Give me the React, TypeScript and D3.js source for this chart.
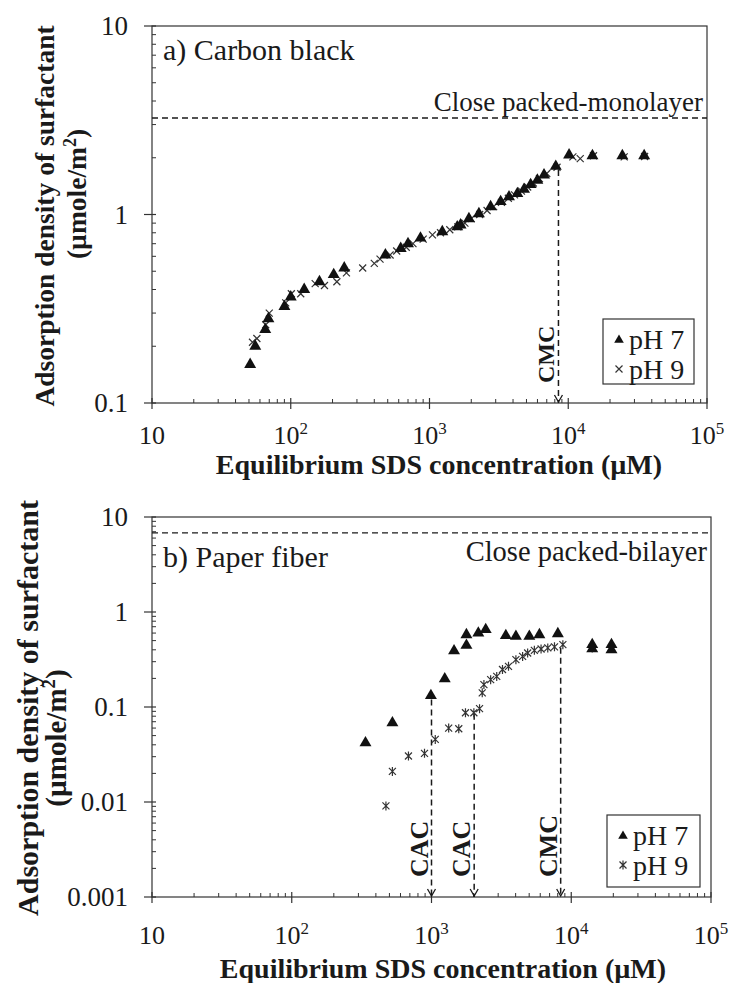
import * as d3 from "d3";

// Panel a) carbon black, [SDS µM, adsorption µmol/m2]
const carbonPh7: [number, number][] = [
  [51, 0.16], [55.5, 0.2], [65.5, 0.245], [69, 0.28], [90, 0.325], [100, 0.365],
  [125, 0.4], [161, 0.44], [204, 0.48], [243, 0.52], [481, 0.61], [620, 0.66],
  [700, 0.7], [861, 0.75], [1236, 0.81], [1585, 0.86], [1675, 0.88], [1924, 0.95],
  [2270, 1.01], [2756, 1.1], [3257, 1.17], [3741, 1.24], [4297, 1.29], [4800, 1.36],
  [5360, 1.44], [5990, 1.52], [6690, 1.62], [8130, 1.8], [10140, 2.07], [14940, 2.05],
  [24550, 2.05], [35240, 2.05],
];
const carbonPh9: [number, number][] = [
  [53, 0.21], [57, 0.22], [66, 0.26], [70, 0.3], [92, 0.34], [101, 0.38], [118, 0.38],
  [150, 0.43], [175, 0.42], [215, 0.44], [252, 0.49], [330, 0.52], [400, 0.55],
  [440, 0.58], [520, 0.61], [580, 0.64], [680, 0.67], [760, 0.7], [900, 0.74],
  [1050, 0.78], [1200, 0.8], [1400, 0.83], [1600, 0.86], [1800, 0.9], [2000, 0.95],
  [2300, 1.0], [2600, 1.05], [2900, 1.1], [3300, 1.16], [3700, 1.22], [4100, 1.27],
  [4600, 1.33], [5100, 1.4], [5600, 1.47], [6200, 1.55], [7000, 1.65], [8300, 1.78],
  [10800, 2.02], [12200, 1.98], [15200, 2.05], [25300, 2.02], [35500, 2.03],
];

// Panel b) paper fiber
const paperPh7: [number, number][] = [
  [337, 0.042], [525, 0.068], [990, 0.132], [1244, 0.198], [1450, 0.39], [1778, 0.446],
  [1778, 0.577], [2163, 0.6], [2443, 0.652], [3404, 0.564], [4018, 0.555], [5012, 0.555],
  [5916, 0.577], [8017, 0.59], [14130, 0.453], [19400, 0.453], [14130, 0.41], [19400, 0.4],
];
const paperPh9: [number, number][] = [
  [472, 0.0091], [525, 0.021], [684, 0.0305], [891, 0.0325], [1064, 0.0456], [1327, 0.06],
  [1567, 0.059], [1750, 0.087], [2010, 0.087], [2207, 0.096], [2307, 0.141], [2372, 0.172],
  [2650, 0.194], [2929, 0.21], [3221, 0.248], [3556, 0.268], [4018, 0.315], [4487, 0.341],
  [4875, 0.37], [5445, 0.395], [6082, 0.408], [6792, 0.419], [7587, 0.43], [8710, 0.453],
  [14130, 0.419], [19400, 0.419],
];

const xTicks = [10, 100, 1000, 10000, 100000];
const topYTicks = [0.1, 1, 10];
const bottomYTicks = [0.001, 0.01, 0.1, 1, 10];
const yTickText: Record<string, string> = {
  "0.001": "0.001", "0.01": "0.01", "0.1": "0.1", "1": "1", "10": "10",
};
const legendLabels = ["pH 7", "pH 9"];

const monolayer = 3.25;
const bilayer = 6.8;
const carbonMarks = [{ label: "CMC", x: 8500, top: 1.72 }];
const paperMarks = [
  { label: "CAC", x: 1000, top: 0.12 },
  { label: "CAC", x: 2020, top: 0.085 },
  { label: "CMC", x: 8400, top: 0.42 },
];

const serif = "'Liberation Serif', 'Times New Roman', serif";
const ink = "#1a1a1a";

function xLabel(v: number, y: number, x: number) {
  const e = Math.round(Math.log10(v));
  return (
    <text key={v} x={x} y={y} textAnchor="middle" fontSize={26}>
      10{e > 1 ? <tspan fontSize={17} dy={-10}>{e}</tspan> : null}
    </text>
  );
}

function minorTicks(lo: number, hi: number) {
  const out: number[] = [];
  for (let d = lo; d < hi; d *= 10) for (let k = 2; k < 10; k++) out.push(d * k);
  return out;
}

interface PanelProps {
  left: number; right: number; top: number; bottom: number;
  yDomain: [number, number]; yTicks: number[];
  ph7: [number, number][]; ph9: [number, number][]; star: boolean;
  packed: number; packedText: string; packedSize: number; packedY: number;
  title: string; titleY: number;
  marks: { label: string; x: number; top: number }[]; markSize: number;
  legend: { x: number; y: number; w: number; h: number };
  xLabelY: number; xTitleY: number; xTitleX: number; xTitleSize: number;
  yTitle: { x1: number; c1: number; s1: number; x2: number; c2: number; s2: number };
}

function Panel(p: PanelProps) {
  const x = d3.scaleLog().domain([10, 100000]).range([p.left, p.right]);
  const y = d3.scaleLog().domain(p.yDomain).range([p.bottom, p.top]);
  const tri = d3.symbol(d3.symbolTriangle, 62)()!;
  const cross = "M-3.5,-3.5L3.5,3.5M-3.5,3.5L3.5,-3.5";
  const star = "M-3.5,-3.5L3.5,3.5M-3.5,3.5L3.5,-3.5M0,-4.5L0,4.5";
  const mk9 = p.star ? star : cross;
  const lg = p.legend;
  return (
    <g fontFamily={serif} fill={ink}>
      <rect x={p.left} y={p.top} width={p.right - p.left} height={p.bottom - p.top}
        fill="none" stroke="#333" strokeWidth={1.2} />
      {/* x axis ticks */}
      {xTicks.map((t) => (
        <line key={t} x1={x(t)} x2={x(t)} y1={p.bottom - 5} y2={p.bottom + 6} stroke="#333" strokeWidth={1.2} />
      ))}
      {minorTicks(10, 100000).map((t) => (
        <line key={t} x1={x(t)} x2={x(t)} y1={p.bottom - 4} y2={p.bottom} stroke="#333" />
      ))}
      {xTicks.map((t) => xLabel(t, p.xLabelY, x(t)))}
      {/* y axis ticks */}
      {p.yTicks.map((t) => (
        <g key={t}>
          <line x1={p.left - 8} x2={p.left + 4} y1={y(t)} y2={y(t)} stroke="#333" strokeWidth={1.2} />
          <text x={128} y={y(t) + 9} textAnchor="end" fontSize={27}>{yTickText[String(t)]}</text>
        </g>
      ))}
      {minorTicks(p.yDomain[0], p.yDomain[1]).map((t) => (
        <line key={t} x1={p.left} x2={p.left + 4} y1={y(t)} y2={y(t)} stroke="#333" />
      ))}
      {/* close packed layer */}
      <line x1={p.left} x2={p.right} y1={y(p.packed)} y2={y(p.packed)} stroke={ink}
        strokeWidth={1.4} strokeDasharray="6,4" />
      <text x={p.right - 4} y={p.packedY} textAnchor="end" fontSize={p.packedSize}>{p.packedText}</text>
      <text x={p.left + 11} y={p.titleY} fontSize={30}>{p.title}</text>
      {/* CAC / CMC markers */}
      {p.marks.map((m, i) => (
        <g key={i}>
          <line x1={x(m.x)} x2={x(m.x)} y1={y(m.top)} y2={p.bottom} stroke={ink}
            strokeWidth={1.5} strokeDasharray="6,4" />
          <path d={`M${x(m.x) - 4},${p.bottom - 8}L${x(m.x)},${p.bottom - 1}L${x(m.x) + 4},${p.bottom - 8}`}
            fill="none" stroke={ink} strokeWidth={1.3} />
          <text transform={`translate(${x(m.x) - 4},${p.bottom - 20}) rotate(-90)`}
            fontSize={p.markSize} fontWeight="bold">{m.label}</text>
        </g>
      ))}
      {/* data */}
      {p.ph9.map(([a, b], i) => (
        <path key={"n" + i} d={mk9} transform={`translate(${x(a)},${y(b)})`} fill="none"
          stroke="#333" strokeWidth={1.2} />
      ))}
      {p.ph7.map(([a, b], i) => (
        <path key={"s" + i} d={tri} transform={`translate(${x(a)},${y(b)})`} fill="#111" />
      ))}
      {/* legend */}
      <rect x={lg.x} y={lg.y} width={lg.w} height={lg.h} fill="#fff" stroke="#333" strokeWidth={1.2} />
      {legendLabels.map((l, i) => {
        const ly = lg.y + 20 + i * 30;
        return (
          <g key={l}>
            {i === 0 ? (
              <path d={d3.symbol(d3.symbolTriangle, 40)()!} transform={`translate(${lg.x + 16},${ly + 1})`} fill="#111" />
            ) : (
              <path d={mk9} transform={`translate(${lg.x + 16},${ly})`} fill="none" stroke="#333" strokeWidth={1.2} />
            )}
            <text x={lg.x + 26} y={ly + 10} fontSize={28}>{l}</text>
          </g>
        );
      })}
      {/* axis titles */}
      <text x={p.xTitleX} y={p.xTitleY} textAnchor="middle" fontSize={p.xTitleSize} fontWeight="bold">
        Equilibrium SDS concentration (µM)
      </text>
      <text transform={`translate(${p.yTitle.x1},${p.yTitle.c1}) rotate(-90)`} textAnchor="middle"
        fontSize={p.yTitle.s1} fontWeight="bold">Adsorption density of surfactant</text>
      <text transform={`translate(${p.yTitle.x2},${p.yTitle.c2}) rotate(-90)`} textAnchor="middle"
        fontSize={p.yTitle.s2} fontWeight="bold">
        (µmole/m<tspan fontSize={p.yTitle.s2 * 0.65} dy={-p.yTitle.s2 * 0.38}>2</tspan>
        <tspan dy={p.yTitle.s2 * 0.38}>)</tspan>
      </text>
    </g>
  );
}

export default function App() {
  return (
    <svg width={729} height={983} style={{ position: "absolute", left: 0, top: 0, background: "#fff" }}>
      <Panel left={152} right={707} top={26} bottom={403} yDomain={[0.1, 10]} yTicks={topYTicks}
        ph7={carbonPh7} ph9={carbonPh9} star={false}
        packed={monolayer} packedText="Close packed-monolayer" packedSize={27} packedY={111}
        title="a) Carbon black" titleY={60} marks={carbonMarks} markSize={24}
        legend={{ x: 603, y: 319, w: 91, h: 65 }}
        xLabelY={444} xTitleY={474} xTitleX={439} xTitleSize={28}
        yTitle={{ x1: 54, c1: 216, s1: 27.5, x2: 86, c2: 194, s2: 27.5 }} />
      <Panel left={152} right={711} top={517} bottom={897} yDomain={[0.001, 10]} yTicks={bottomYTicks}
        ph7={paperPh7} ph9={paperPh9} star={true}
        packed={bilayer} packedText="Close packed-bilayer" packedSize={28.5} packedY={561}
        title="b) Paper fiber" titleY={567} marks={paperMarks} markSize={26}
        legend={{ x: 607, y: 815, w: 93, h: 72 }}
        xLabelY={944} xTitleY={978} xTitleX={443} xTitleSize={28}
        yTitle={{ x1: 38, c1: 708, s1: 30, x2: 66, c2: 738, s2: 29 }} />
    </svg>
  );
}
